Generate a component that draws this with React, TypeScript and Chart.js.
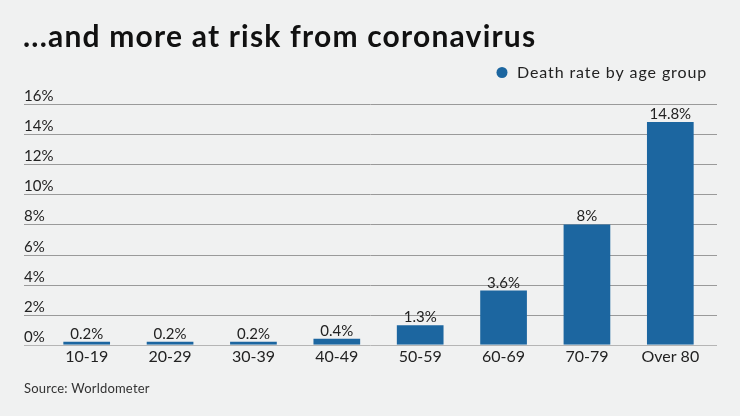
import React, { useEffect, useRef } from "react";
import { Chart, registerables } from "chart.js";

Chart.register(...registerables);

const TITLE = "...and more at risk from coronavirus";
const SOURCE = "Source: Worldometer";
const SERIES_NAME = "Death rate by age group";
const categories = ["10-19", "20-29", "30-39", "40-49", "50-59", "60-69", "70-79", "Over 80"];
const deathRates = [0.2, 0.2, 0.2, 0.4, 1.3, 3.6, 8, 14.8];
const yTicks = [0, 2, 4, 6, 8, 10, 12, 14, 16];

const BAR = "#1c66a0";
const BG = "#f0f1f1";
const TEXT = "#222222";
const FONT = "Lato, 'Noto Sans', sans-serif";

export default function App() {
  const ref = useRef<HTMLCanvasElement | null>(null);

  useEffect(() => {
    document.body.style.margin = "0";
    const canvas = ref.current;
    if (!canvas) return;

    const decor = {
      id: "decor",
      beforeDraw(chart: any) {
        const ctx = chart.ctx;
        ctx.save();
        ctx.fillStyle = BG;
        ctx.fillRect(0, 0, chart.width, chart.height);
        const y = chart.scales.y;
        ctx.font = `15px ${FONT}`;
        ctx.textAlign = "left";
        ctx.textBaseline = "alphabetic";
        yTicks.forEach((v) => {
          const py = Math.round(y.getPixelForValue(v)) + 0.5;
          ctx.strokeStyle = v === 0 ? "#b5b5b5" : "#9a9a9a";
          ctx.lineWidth = 1;
          ctx.beginPath();
          ctx.moveTo(24, py);
          ctx.lineTo(717, py);
          ctx.stroke();
          ctx.fillStyle = TEXT;
          ctx.fillText(`${v}%`, 24, py - 4);
        });
        // title
        ctx.fillStyle = "#111111";
        ctx.font = `700 30px ${FONT}`;
        (ctx as any).letterSpacing = "1.2px";
        ctx.fillText(TITLE, 23, 47);
        // legend
        ctx.fillStyle = BAR;
        ctx.beginPath();
        ctx.arc(502, 72.5, 5.5, 0, Math.PI * 2);
        ctx.fill();
        ctx.fillStyle = TEXT;
        ctx.font = `16px ${FONT}`;
        (ctx as any).letterSpacing = "0.9px";
        ctx.fillText(SERIES_NAME, 517, 78);
        // source
        ctx.font = `13px ${FONT}`;
        (ctx as any).letterSpacing = "0.2px";
        ctx.fillStyle = "#333333";
        ctx.fillText(SOURCE, 24, 393);
        (ctx as any).letterSpacing = "0px";
        ctx.restore();
      },
      afterDatasetsDraw(chart: any) {
        const ctx = chart.ctx;
        const meta = chart.getDatasetMeta(0);
        ctx.save();
        ctx.font = `15px ${FONT}`;
        ctx.fillStyle = TEXT;
        ctx.textAlign = "center";
        ctx.textBaseline = "alphabetic";
        meta.data.forEach((bar: any, i: number) => {
          ctx.fillText(`${deathRates[i]}%`, bar.x, bar.y - 3);
        });
        ctx.restore();
      },
    };

    const chart = new Chart(canvas, {
      type: "bar",
      data: {
        labels: categories,
        datasets: [
          {
            label: SERIES_NAME,
            data: deathRates,
            backgroundColor: BAR,
            barPercentage: 0.56,
            categoryPercentage: 1,
          },
        ],
      },
      options: {
        animation: false,
        responsive: false,
        maintainAspectRatio: false,
        layout: { padding: { top: 104, left: 45, right: 28, bottom: 48 } },
        plugins: {
          legend: { display: false },
          title: { display: false },
          tooltip: { enabled: false },
        },
        scales: {
          x: {
            grid: { display: false, drawTicks: false },
            border: { display: false },
            ticks: {
              color: TEXT,
              font: { family: FONT, size: 16 },
              padding: 2,
              maxRotation: 0,
              autoSkip: false,
            },
          },
          y: {
            min: 0,
            max: 16,
            grid: { display: false, drawTicks: false },
            border: { display: false },
            ticks: { display: false, stepSize: 2 },
          },
        },
      },
      plugins: [decor],
    });

    return () => chart.destroy();
  }, []);

  return (
    <div style={{ width: 740, height: 416, background: BG }}>
      <canvas ref={ref} width={740} height={416} style={{ display: "block" }} />
    </div>
  );
}
